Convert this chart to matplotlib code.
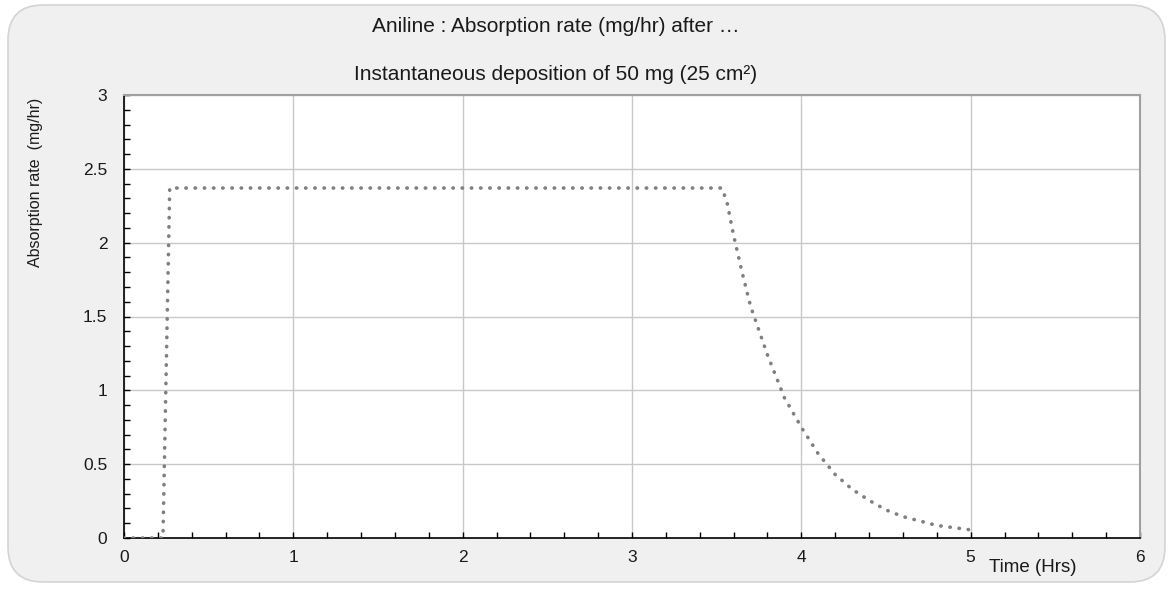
import matplotlib.pyplot as plt
from matplotlib.patches import FancyBboxPatch
from matplotlib.ticker import MultipleLocator

plt.rcParams['font.family'] = ['Liberation Sans', 'DejaVu Sans']

# absorption rate curve
time_hrs = [0, 0.23, 0.27, 3.53, 3.56, 3.60, 3.65, 3.70, 3.80, 3.90, 4.00,
            4.10, 4.20, 4.30, 4.40, 4.50, 4.60, 4.70, 4.80, 4.90, 5.00]
rate_mg_hr = [0, 0, 2.37, 2.37, 2.28, 2.05, 1.80, 1.57, 1.24, 0.95, 0.75,
              0.57, 0.43, 0.33, 0.255, 0.19, 0.145, 0.115, 0.085, 0.07, 0.055]

x_ticks = [0, 1, 2, 3, 4, 5, 6]
y_ticks = [0, 0.5, 1, 1.5, 2, 2.5, 3]
y_labels = ['0', '0.5', '1', '1.5', '2', '2.5', '3']

title1 = 'Aniline : Absorption rate (mg/hr) after \u2026'
title2 = 'Instantaneous deposition of 50 mg (25 cm\u00b2)'

W, H = 1171, 589
fig = plt.figure(figsize=(W / 100, H / 100), dpi=100)
fig.patch.set_facecolor('white')

# rounded grey panel behind everything
panel = FancyBboxPatch((8 / W, 7 / H), (W - 14) / W, (H - 12) / H,
                       boxstyle='round,pad=0,rounding_size=0.03',
                       transform=fig.transFigure, facecolor='#f0f0f0',
                       edgecolor='#d4d4d4', linewidth=1.2, mutation_aspect=W / H,
                       zorder=-5)
fig.patches.append(panel)

ax = fig.add_axes([124 / W, (H - 538) / H, (1140 - 124) / W, (538 - 95) / H])
ax.set_facecolor('white')

ax.plot(time_hrs, rate_mg_hr, color='#7f7f7f', linewidth=2.6,
        linestyle=(0, (0.1, 2.45)), dash_capstyle='round', zorder=3)

ax.set_xlim(0, 6)
ax.set_ylim(0, 3)
ax.set_xticks(x_ticks)
ax.set_yticks(y_ticks)
ax.set_yticklabels(y_labels)
ax.xaxis.set_minor_locator(MultipleLocator(0.2))
ax.yaxis.set_minor_locator(MultipleLocator(0.1))
ax.tick_params(which='both', direction='in', length=4.5, width=1.0,
               colors='black', top=False, right=False)
ax.tick_params(axis='x', which='major', pad=9, labelsize=12.5, labelcolor='#1a1a1a')
ax.tick_params(axis='y', which='major', pad=12, labelsize=12.5, labelcolor='#1a1a1a')

ax.grid(True, which='major', color='#c8c8c8', linewidth=1.0, zorder=0)
ax.set_axisbelow(True)

for s in ['left', 'bottom']:
    ax.spines[s].set_color('black')
    ax.spines[s].set_linewidth(1.2)
for s in ['top', 'right']:
    ax.spines[s].set_color('#a0a0a0')
    ax.spines[s].set_linewidth(1.5)

fig.text(556 / W, 1 - 26 / H, title1, ha='center', va='center',
         fontsize=15, color='#1a1a1a')
fig.text(556 / W, 1 - 75 / H, title2, ha='center', va='center',
         fontsize=15, color='#1a1a1a')
fig.text(36 / W, 1 - 182 / H, 'Absorption rate  (mg/hr)', rotation=90,
         ha='center', va='center', fontsize=11.5, color='#1a1a1a')
fig.text(1033 / W, 1 - 568 / H, 'Time (Hrs)', ha='center', va='center',
         fontsize=13.5, color='#1a1a1a')

fig.savefig('out.png', dpi=100, facecolor=fig.get_facecolor())
